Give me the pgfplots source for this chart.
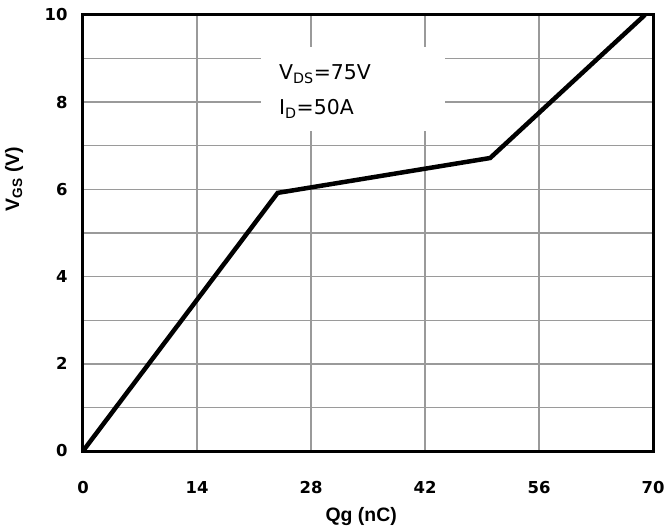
\documentclass[border=0pt]{standalone}
\usepackage{fontspec}
\setmainfont{DejaVu Sans}
\newfontfamily\labelfont{Liberation Sans}
\usepackage{pgfplots}
\pgfplotsset{compat=1.18}
\definecolor{gridgray}{HTML}{9A9A9A}
\begin{document}
\begin{tikzpicture}
\begin{axis}[
  name=ax,
  scale only axis, width=570bp, height=436bp,
  xmin=0, xmax=70, ymin=0, ymax=10,
  xtick={0,14,...,70}, ytick={0,2,...,10},
  minor ytick={1,3,...,9},
  xmajorgrids, ymajorgrids, yminorgrids,
  major grid style={gridgray, line width=1.4bp},
  minor grid style={gridgray, line width=1.4bp},
  axis line style={black, line width=3bp},
  major tick length=0pt, minor tick length=0pt,
  /pgf/number format/assume math mode=true,
  ticklabel style={font=\fontsize{16.5}{18}\selectfont\bfseries},
  xticklabel style={yshift=-27bp},
  yticklabel style={xshift=-12bp},
  xlabel={\labelfont\fontsize{19.5}{22}\selectfont\bfseries Qg (nC)},
  ylabel={\labelfont\fontsize{19.5}{22}\selectfont\bfseries V\textsubscript{GS} (V)},
  xlabel style={at={(axis description cs:0.488,-0.122)}, anchor=north},
  ylabel style={at={(axis description cs:-0.099,0.624)}, anchor=south},
]
\fill[white] (axis cs:21.86,7.34) rectangle (axis cs:44.45,9.27);
\node[anchor=base west, inner sep=0pt, font=\fontsize{20.5}{24}\selectfont]
  at (axis cs:24.07,8.51) {V\textsubscript{DS}=75V};
\node[anchor=base west, inner sep=0pt, font=\fontsize{20.5}{24}\selectfont]
  at (axis cs:24.07,7.71) {I\textsubscript{D}=50A};
\addplot[black, line width=4.5bp, line join=miter] coordinates {
  (0,0) (23.9,5.92) (50.0,6.72) (69.0,10)};
\end{axis}
\pgfresetboundingbox
\path[use as bounding box] ([xshift=-83bp,yshift=-78bp]ax.south west)
  rectangle ([xshift=11bp,yshift=15bp]ax.north east);
\end{tikzpicture}
\end{document}
